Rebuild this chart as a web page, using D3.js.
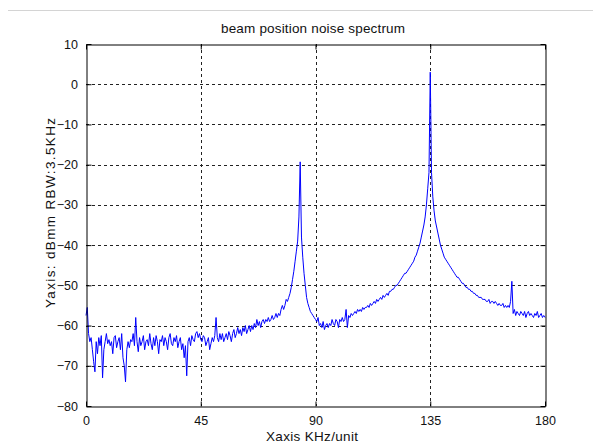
<!DOCTYPE html>
<html>
<head>
<meta charset="utf-8">
<script src="https://cdn.jsdelivr.net/npm/d3@7"></script>
<style>
  body { margin: 0; background: #fff; }
  svg text { font-family: "Liberation Sans", Arial, Helvetica, sans-serif; fill: #111; }
</style>
</head>
<body>
<svg id="chart" width="593" height="445"></svg>
<script>
// beam position noise spectrum (0.5 kHz steps, 0..180 kHz)
var titleText = 'beam position noise spectrum'
var xLabel = 'Xaxis KHz/unit'
var yLabel = 'Yaxis: dBmm RBW:3.5KHz'
var xTicks = [0, 45, 90, 135, 180]
var yTicks = [10, 0, -10, -20, -30, -40, -50, -60, -70, -80]
var freqStart = 0, freqStep = 0.5

var levelDb = [
  -57.5, -55.5, -62, -64, -63, -66, -69, -71.5, -64, -67,
  -63, -65, -62.5, -73, -66, -64, -62, -64.5, -63.5, -65,
  -64, -67, -63, -62.5, -65.5, -64, -63, -66, -62, -68,
  -70, -74, -66, -64, -65.5, -63.5, -64, -62, -65, -58,
  -64, -66.5, -63, -65, -64, -62.5, -66, -64, -63.5, -65,
  -62, -64.5, -66, -63, -65, -62.5, -64, -67, -63.5, -64,
  -62.5, -65, -63, -64, -66, -63, -62, -64.5, -65, -63,
  -64, -62.5, -65.5, -64, -63, -66, -64.5, -68, -65, -72.5,
  -64, -63, -65, -62.5, -63.5, -64, -62, -61.5, -63, -62,
  -63.5, -64, -62.5, -63, -65, -64, -63, -66, -64.5, -63,
  -64, -62.5, -58, -63, -64, -62, -63.5, -62, -64, -63,
  -62, -63.5, -61.5, -62.5, -64, -62, -61, -63, -62, -60.5,
  -62, -61, -62.5, -60.5, -61.5, -60, -62, -61, -60, -61.5,
  -60, -61, -59.5, -60.5, -58.5, -60, -59, -60.5, -59, -58.5,
  -59.5, -58.5, -59, -58, -59, -58.5, -57.5, -58.5, -58, -57,
  -58, -57, -57.5, -56, -55, -56, -55, -53.5, -54, -53,
  -52, -50.5, -48.5, -46.5, -44, -41.5, -39, -33, -19.3, -38,
  -43, -47, -50, -53, -54.5, -55.5, -56.5, -57, -57.5, -58,
  -58.5, -59, -58, -60, -59.5, -60.5, -59, -61, -60, -59.5,
  -60.5, -59.5, -60, -58.5, -59.5, -60, -58.5, -59, -60.5, -58.5,
  -59, -58, -59, -58.5, -56, -60.5, -57.5, -58, -57, -57.5,
  -57, -56.5, -57, -56, -56.5, -56, -56.5, -55.5, -56, -55.5,
  -55.5, -55, -55.5, -54.5, -55, -54.5, -54, -54.5, -53.5, -54,
  -53.5, -53, -53.5, -52.5, -53, -52.5, -52, -52.5, -51.5, -51.5,
  -51, -51, -50.5, -50, -50, -49.5, -49, -48.5, -48, -47.5,
  -47, -47, -46.5, -46, -45.5, -45, -44.5, -44, -43, -42.5,
  -41.5, -40.5, -39.5, -38, -36.5, -35, -33, -30, -26, -22,
  3, -22, -28, -31.5, -34, -35.5, -37, -38.5, -40, -41,
  -42, -43, -43.5, -44, -44.5, -45, -45.5, -46, -46.5, -47,
  -47.5, -48, -48, -48.5, -49, -49.5, -49.5, -50, -50.5, -50.5,
  -51, -51, -51.5, -51.5, -52, -52, -52.5, -52.5, -53, -53,
  -53, -53.5, -53.5, -53.5, -54, -54, -53.5, -54.5, -54, -54,
  -54.5, -54, -54.5, -55, -54.5, -55, -55, -54.5, -55.5, -55,
  -55.5, -55, -55.5, -54, -49, -57, -56, -57.5, -56.5, -57,
  -57.5, -56.5, -57, -57.5, -56.5, -58, -57, -56.5, -57.5, -57,
  -57.5, -58, -57, -57.5, -56.5, -58, -57.5, -57, -58, -57.5,
  -58
]

var svg = d3.select('#chart')
var plotL = 86, plotR = 545, plotT = 44, plotB = 406

var x = d3.scaleLinear().domain([0, 180]).range([plotL, plotR])
var y = d3.scaleLinear().domain([-80, 10]).range([plotB, plotT])

// faint rule at the top of the page
svg.append('line')
  .attr('x1', 8).attr('x2', 593).attr('y1', 10.5).attr('y2', 10.5)
  .attr('stroke', '#d4d4d4')

// dashed grid
var grid = svg.append('g').attr('stroke', '#222').attr('stroke-dasharray', '3,3')
grid.selectAll('.gx').data(xTicks.slice(1, -1)).enter().append('line')
  .attr('x1', function(d) { return Math.round(x(d)) + 0.5 })
  .attr('x2', function(d) { return Math.round(x(d)) + 0.5 })
  .attr('y1', plotT).attr('y2', plotB)
grid.selectAll('.gy').data(yTicks.slice(1, -1)).enter().append('line')
  .attr('y1', function(d) { return Math.round(y(d)) + 0.5 })
  .attr('y2', function(d) { return Math.round(y(d)) + 0.5 })
  .attr('x1', plotL).attr('x2', plotR)

// spectrum trace
var line = d3.line()
  .x(function(d, i) { return x(freqStart + i * freqStep) })
  .y(function(d) { return y(d) })
svg.append('path')
  .datum(levelDb)
  .attr('d', line)
  .attr('fill', 'none')
  .attr('stroke', '#0000ff')
  .attr('stroke-width', 1)

// axes with inward ticks, box all round
var ax = svg.append('g').attr('transform', 'translate(0,' + (plotB + 0.5) + ')')
  .call(d3.axisBottom(x).tickValues(xTicks).tickSizeInner(-5).tickSizeOuter(0).tickPadding(8))
var ay = svg.append('g').attr('transform', 'translate(' + (plotL + 0.5) + ',0)')
  .call(d3.axisLeft(y).tickValues(yTicks).tickSizeInner(-5).tickSizeOuter(0).tickPadding(8))
var at = svg.append('g').attr('transform', 'translate(0,' + (plotT + 0.5) + ')')
  .call(d3.axisTop(x).tickValues(xTicks).tickSizeInner(-5).tickSizeOuter(0).tickFormat(''))
var ar = svg.append('g').attr('transform', 'translate(' + (plotR + 0.5) + ',0)')
  .call(d3.axisRight(y).tickValues(yTicks).tickSizeInner(-5).tickSizeOuter(0).tickFormat(''))
;[ax, ay, at, ar].forEach(function(g) {
  g.selectAll('path, line').attr('stroke', '#000')
  g.selectAll('text').style('font-size', '12.5px').attr('fill', '#111')
})
ax.selectAll('text').attr('dy', '0.85em')
ay.selectAll('text').attr('dx', '-0.05em')

// title and axis labels (stretched to the widths in the picture)
svg.append('text')
  .attr('x', 313).attr('y', 33)
  .attr('text-anchor', 'middle').style('font-size', '13.5px')
  .attr('textLength', 184).attr('lengthAdjust', 'spacing')
  .text(titleText)
svg.append('text')
  .attr('x', 312).attr('y', 441)
  .attr('text-anchor', 'middle').style('font-size', '13.5px')
  .attr('textLength', 92).attr('lengthAdjust', 'spacing')
  .text(xLabel)
svg.append('text')
  .attr('transform', 'translate(55,213) rotate(-90)')
  .attr('text-anchor', 'middle').style('font-size', '13.5px')
  .attr('textLength', 190).attr('lengthAdjust', 'spacing')
  .text(yLabel)
</script>
</body>
</html>
